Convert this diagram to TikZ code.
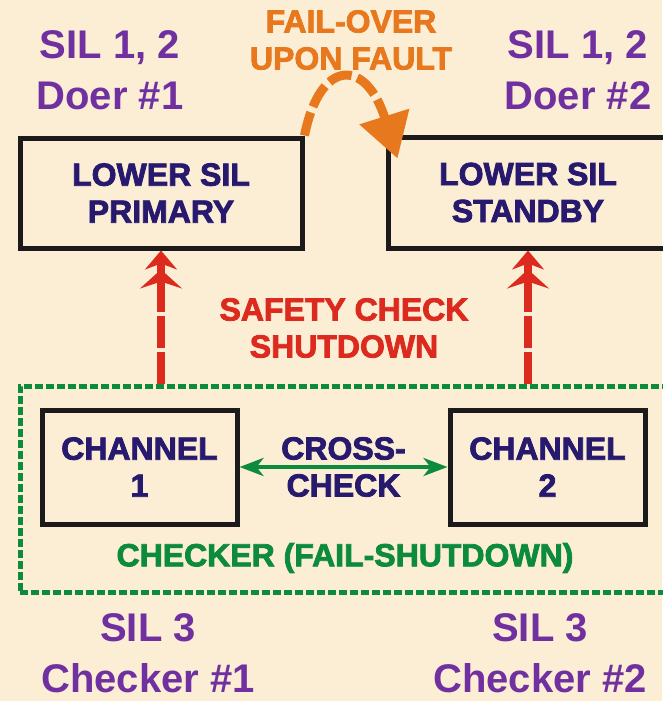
\documentclass[tikz,border=0pt]{standalone}
\usepackage{fontspec}
\setmainfont{Liberation Sans}
\newfontfamily\heavyfont{Liberation Sans Bold}[FakeBold=2.5]
\usetikzlibrary{arrows.meta,calc}
\definecolor{parchment}{HTML}{FBEED5}
\definecolor{silpurple}{HTML}{7030A0}
\definecolor{silnavy}{HTML}{271A6E}
\definecolor{silred}{HTML}{DC2A1F}
\definecolor{silorange}{HTML}{E8781E}
\definecolor{silgreen}{HTML}{0C8B3C}
\definecolor{silline}{HTML}{1C1A1A}

\begin{document}
\begin{tikzpicture}[x=1pt, y=-1pt,
    unitbox/.style={draw=silline, line width=5pt, text=silnavy, align=center, inner sep=0pt,
      font=\heavyfont\fontsize{32}{37}\selectfont},
    chkbox/.style={draw=silgreen, line width=5pt, dash pattern=on 8pt off 3pt},
    silnote/.style={text=silpurple, align=center, inner sep=0pt,
      font=\bfseries\fontsize{40}{51}\selectfont},
    caplabel/.style={align=center, inner sep=0pt,
      font=\heavyfont\fontsize{32}{37}\selectfont},
    shutarrow/.style={draw=silred, line width=8pt, dash pattern=on 32pt off 4pt,
      -{Stealth[length=19pt,width=42pt,inset=7pt] Stealth[length=19pt,width=32pt,inset=6pt]}},
    failarrow/.style={draw=silorange, line width=9pt, dash pattern=on 24pt off 6pt,
      -{Triangle[length=44pt,width=50pt]}},
    xcheck/.style={draw=silgreen, line width=4pt,
      {Stealth[length=24pt,width=18pt,inset=7pt]}-{Stealth[length=24pt,width=18pt,inset=7pt]}}]
  % page and background
  \useasboundingbox (0,0) rectangle (662,701);
  \fill[parchment] (0,0) rectangle (662,701);

  % doers
  \node[unitbox, minimum width=282pt, minimum height=110pt] (prim) at (161,193) {LOWER SIL\\PRIMARY};
  \node[unitbox, minimum width=280pt, minimum height=111pt] (stby) at (528,192.5) {LOWER SIL\\STANDBY};

  % checker
  \node[chkbox, minimum width=662pt, minimum height=206pt] (chk) at (351,489) {};
  \node[unitbox, minimum width=195pt, minimum height=114pt] (ch1) at (139.5,467) {CHANNEL\\1};
  \node[unitbox, minimum width=195pt, minimum height=114pt] (ch2) at (547.5,467) {CHANNEL\\2};

  % labels
  \node[silnote] (doer1) at (110,70) {SIL 1, 2\\Doer \#1};
  \node[silnote] (doer2) at (578,70) {SIL 1, 2\\Doer \#2};
  \node[silnote] (chkr1) at (148,653) {SIL 3\\Checker \#1};
  \node[silnote] (chkr2) at (540,653) {SIL 3\\Checker \#2};
  \node[caplabel, text=silorange] (fover) at (351,40) {FAIL-OVER\\UPON FAULT};
  \node[caplabel, text=silred] (sdown) at (344,328) {SAFETY CHECK\\SHUTDOWN};
  \node[caplabel, text=silgreen] (chkname) at (345,558) {CHECKER (FAIL-SHUTDOWN)};

  % connectors
  \draw[shutarrow] (chk.north -| prim.south) -- (prim.south);
  \draw[shutarrow] (chk.north -| stby.south) -- (stby.south);
  \draw[xcheck] (ch1) -- node[caplabel, text=silnavy] (xlbl) {CROSS-\\CHECK} (ch2);
  \coordinate (foTip) at ($(stby.north west)+(12,24)$);
  \draw[failarrow] (prim.north east) .. controls (320,58) and (366,58) .. (foTip);
\end{tikzpicture}
\end{document}
